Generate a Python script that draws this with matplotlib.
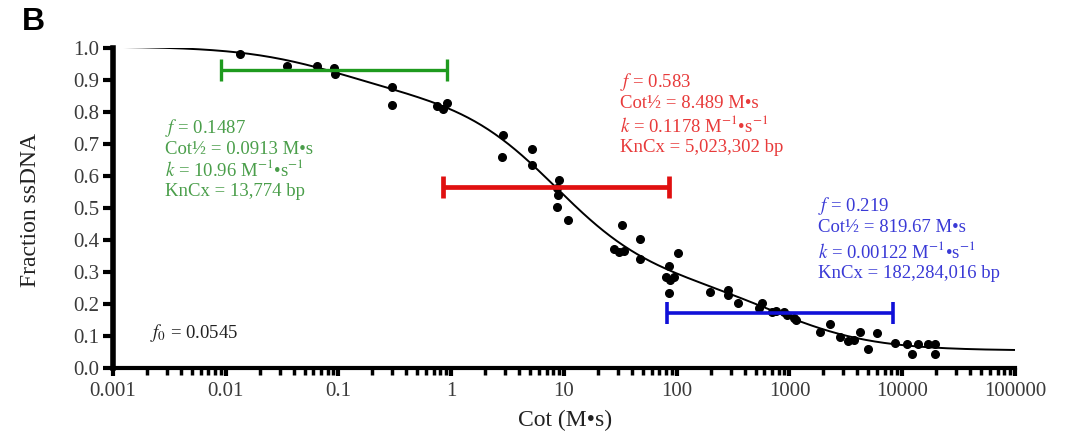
import numpy as np
import matplotlib
matplotlib.use("Agg")
import matplotlib.pyplot as plt
from matplotlib.ticker import LogLocator, FixedLocator, NullFormatter

plt.rcParams['font.family'] = ['Liberation Serif', 'DejaVu Serif']
plt.rcParams['mathtext.fontset'] = 'stix'

# ---- observed data points (Cot, fraction ssDNA) ----
cot = [0.0134, 0.035, 0.064, 0.091, 0.093, 0.30, 0.30, 0.75, 0.91, 0.84,
       2.88, 2.83, 5.2, 5.2, 9.0, 8.7, 8.9, 8.7, 10.8,
       32.7, 47, 28, 31, 34, 47, 85, 80, 94, 88, 85, 102,
       197, 285, 285, 350, 570, 540, 700, 760, 900, 950, 1100, 1150,
       1870, 2300, 2800, 3300, 3700, 4200, 5000, 5970,
       8630, 11000, 13800, 16900, 19500, 12300, 19500]
frac = [0.981, 0.945, 0.944, 0.9375, 0.92, 0.879, 0.822, 0.819, 0.828, 0.81,
        0.728, 0.66, 0.684, 0.634, 0.5875, 0.5625, 0.54, 0.503, 0.4625,
        0.447, 0.403, 0.372, 0.362, 0.365, 0.34, 0.32, 0.285, 0.285, 0.275, 0.234, 0.36,
        0.237, 0.244, 0.228, 0.203, 0.203, 0.1875, 0.175, 0.178, 0.175, 0.166, 0.156, 0.15,
        0.1125, 0.1375, 0.097, 0.085, 0.088, 0.1125, 0.059, 0.11,
        0.077, 0.076, 0.075, 0.075, 0.075, 0.044, 0.044]

# ---- fit parameters shown on the chart ----
f0 = 0.0545
comp_f = [0.1487, 0.583, 0.219]
comp_cothalf = [0.0913, 8.489, 819.67]
comp_k = ["10.96", "0.1178", "0.00122"]
comp_kncx = ["13,774", "5,023,302", "182,284,016"]
comp_bar_y = [0.931, 0.567, 0.172]
bar_colors = ['#1e9a1e', '#e01010', '#1010d8']
text_colors = ['#4a9e4a', '#e83a3a', '#3a3ad6']

xticks = [0.001, 0.01, 0.1, 1, 10, 100, 1000, 10000, 100000]
xtick_labels = ['0.001', '0.01', '0.1', '1', '10', '100', '1000', '10000', '100000']
yticks = [0.0, 0.1, 0.2, 0.3, 0.4, 0.5, 0.6, 0.7, 0.8, 0.9, 1.0]

W, H = 1074, 437
fig = plt.figure(figsize=(W / 100, H / 100), dpi=100)
L, R, T, B = 113, 1015, 48, 368
ax = fig.add_axes([L / W, 1 - B / H, (R - L) / W, (B - T) / H])

# fitted curve from the stated parameters
xs = np.logspace(-3, 5, 400)
ys = f0 + sum(f / (1 + xs / c) for f, c in zip(comp_f, comp_cothalf))
ax.plot(xs, ys, color='black', lw=1.4, zorder=3)

ax.plot(cot, frac, 'o', color='black', ms=5.5, mec='black', zorder=4)

bar_lw = [2.4, 3.4, 2.6]
for c, y, col, lw in zip(comp_cothalf, comp_bar_y, bar_colors, bar_lw):
    ax.errorbar([c], [y], xerr=[[c - c / 10], [c * 10 - c]], fmt='none',
                ecolor=col, elinewidth=lw, capsize=8, capthick=lw, zorder=5)

ax.set_xscale('log')
ax.set_xlim(0.001, 100000)
ax.set_ylim(0, 1.0)
ax.xaxis.set_major_locator(FixedLocator(xticks))
ax.set_xticklabels(xtick_labels)
ax.xaxis.set_minor_locator(LogLocator(base=10, subs=np.arange(2, 10), numticks=20))
ax.xaxis.set_minor_formatter(NullFormatter())
ax.set_yticks(yticks)
ax.set_yticklabels([f'{v:.1f}' for v in yticks])

for s in ['top', 'right']:
    ax.spines[s].set_visible(False)
ax.spines['left'].set_linewidth(4)
ax.spines['bottom'].set_linewidth(3)
ax.tick_params(axis='y', which='major', direction='out', length=7, width=3,
               labelsize=15, labelcolor='#3a3a3a', pad=3)
ax.tick_params(axis='x', which='major', direction='out', length=6, width=3,
               labelsize=15, labelcolor='#3a3a3a', pad=4)
ax.tick_params(axis='x', which='minor', direction='out', length=5, width=2.5)

ax.set_xlabel('Cot (M•s)', fontsize=17, color='#222222')
ax.set_ylabel('Fraction ssDNA', fontsize=17, color='#222222')
ax.xaxis.set_label_coords((565 - L) / (R - L), (B - 420) / (B - T))
ax.xaxis.label.set_va('center')
ax.yaxis.set_label_coords((30 - L) / (R - L), (B - 210) / (B - T))
ax.yaxis.label.set_va('center')

def px(xp, yp):
    return ((xp - L) / (R - L), (B - yp) / (B - T))

text_pos = [(165, [128, 149, 170, 191]), (620, [82, 104, 126, 148]), (818, [206, 228, 251, 273])]
for i, (xp, ylines) in enumerate(text_pos):
    lines = [r'$f$ = ' + f'{comp_f[i]:g}',
             'Cot½ = ' + f'{comp_cothalf[i]:g}' + ' M•s',
             r'$k$ = ' + comp_k[i] + r' M$^{-1}$•s$^{-1}$',
             'KnCx = ' + comp_kncx[i] + ' bp']
    for ln, yp in zip(lines, ylines):
        tx, ty = px(xp, yp)
        ax.text(tx, ty, ln, transform=ax.transAxes, color=text_colors[i],
                fontsize=13.5, va='center', ha='left')

tx, ty = px(150, 333)
ax.text(tx, ty, r'$f_0$ = ' + f'{f0}', transform=ax.transAxes, color='#222222',
        fontsize=13.5, va='center', ha='left')

fig.text(22 / W, 1 - 22 / H, 'B', fontsize=23, fontweight='bold',
         family='Liberation Sans', va='center', ha='left')

fig.savefig('out.png', dpi=100)
